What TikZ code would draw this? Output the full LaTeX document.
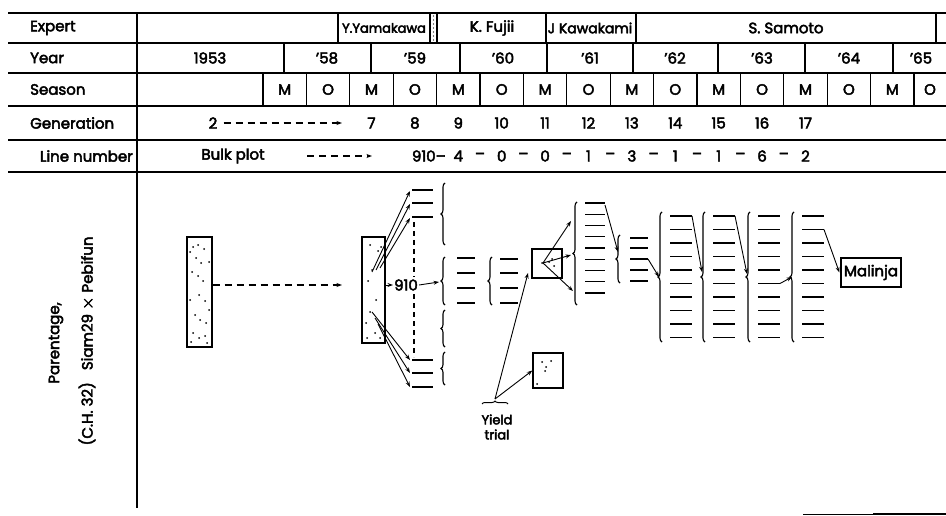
\documentclass[tikz,border=0pt]{standalone}
\usepackage{fontspec}
\setmainfont{Poppins}
\newcommand{\heavytext}{\special{pdf:literal direct 2 Tr 0.45 w}}
\usetikzlibrary{arrows.meta,decorations.pathreplacing}
\begin{document}
\begin{tikzpicture}[x=1pt,y=-1pt,
  every node/.style={font=\fontsize{15}{17}\selectfont\heavytext, inner sep=0pt},
  grid/.style={line width=1.1pt},
  divider/.style={line width=1.6pt},
  bar/.style={line width=1.4pt},
  arr/.style={line width=0.9pt, -{Stealth[length=5.5pt,width=4pt]}},
  dasharr/.style={line width=1.1pt, dash pattern=on 7pt off 5pt, -{Stealth[length=5.5pt,width=4pt]}},
  bracestyle/.style={decorate, decoration={brace, amplitude=4pt}, line width=1.1pt},
  plotbox/.style={draw, line width=1.3pt, inner sep=0pt}
]
\useasboundingbox (0,0) rectangle (946,516);

% ---------- table ----------
\foreach \y in {13,43,73,106,140,172} \draw[grid] (8,\y) -- (946,\y);
\draw[divider] (137,13) -- (137,508);

% left labels
\node[anchor=west] (lexp) at (30,28) {Expert};
\node[anchor=west] (lyear) at (30,58) {Year};
\node[anchor=west] (lseas) at (30,89.5) {Season};
\node[anchor=west] (lgen) at (30,123) {Generation};
\node[anchor=east] (lline) at (133,156) {Line number};

% expert row
\foreach \x in {338,430,437,546,636,936} \draw[grid] (\x,13) -- (\x,43);
\foreach \y in {16,20,...,40} \fill (433.5,\y) circle (0.7);
\node (eyam) at (384,28) {\fontsize{13}{15}\selectfont Y.Yamakawa};
\node (efuj) at (492,28) {K. Fujii};
\node (ekaw) at (590,28) {\fontsize{14}{16}\selectfont J Kawakami};
\node (esam) at (786,28) {S. Samoto};

% year row
\foreach \x in {284,371,460,547,633,718,805,893} \draw[grid] (\x,43) -- (\x,73);
\node (y53) at (210,58) {1953};
\node (y58) at (327,58) {’58};
\node (y59) at (415,58) {’59};
\node (y60) at (503,58) {’60};
\node (y61) at (590,58) {’61};
\node (y62) at (675,58) {’62};
\node (y63) at (762,58) {’63};
\node (y64) at (849,58) {’64};
\node (y65) at (921,58) {’65};

% season row
\foreach \k in {0,...,15} {
  \draw[grid] ({263+43.4*\k},73) -- ++(0,33);
  \pgfmathtruncatemacro{\pp}{mod(\k,2)}
  \pgfmathsetmacro{\xc}{min(263+43.4*(\k+0.5),930)}
  \ifnum\pp=0 \node (s\k) at (\xc,89.5) {M};\else\node (s\k) at (\xc,89.5) {O};\fi
}

% generation row
\node (g2) at (213,123) {2};
\coordinate (g2end) at (342,123);
\draw[dasharr] ([xshift=6pt]g2.east) -- (g2end);
\foreach \k/\g in {2/7,3/8,4/9,5/10,6/11,7/12,8/13,9/14,10/15,11/16,12/17}
  \node (g\g) at ({263+43.4*(\k+0.5)},123) {\g};

% line number row
\node (bulkplot) at (233,156) {Bulk plot};
\coordinate (bpa) at (307,156);
\coordinate (bpb) at (372,156);
\draw[dasharr] (bpa) -- (bpb);
\node[anchor=east] (n910) at (446,156) {910–};
\foreach \k/\v in {4/4,5/0,6/0,7/1,8/3,9/1,10/1,11/6,12/2}
  \node (n\k) at ({263+43.4*(\k+0.5)},156) {\v};
\foreach \k in {4,...,11}
  \node (d\k) at ({263+43.4*(\k+1)},156) {–};

% parentage
\node[rotate=90] (par1) at (56,343) {Parentage,};
\node[rotate=90] (par2) at (87,341) {(C.H. 32)\hspace{12pt}Siam29 {\fontsize{19}{19}\selectfont$\times$} Pebifun};

% ---------- pedigree ----------
\node[plotbox, minimum width=25pt, minimum height=110pt] (bulk) at (199.5,292) {};
\foreach \p in {(193,247),(198,245),(204,249),(196,258),(201,263),(192,272),(198,276),(203,281),(199,295),(205,301),(195,315),(200,320),(206,323),(193,333),(199,338),(205,336),(191,342),(207,343),(190,252),(209,262),(190,300),(209,310)}
  \fill \p circle (1);
\coordinate (bulkend) at (342,285);
\draw[dasharr] (bulk.east |- bulkend) -- (bulkend);

\node[plotbox, minimum width=23pt, minimum height=106pt] (sel) at (373.5,290) {};
\foreach \p in {(370,245),(378,251),(372,270),(368,281),(376,300),(370,312),(366,323),(375,333),(380,338),(381,247),(367,338)}
  \fill \p circle (1);

% top group
\foreach \y in {190,203,217} \draw[bar] (412,\y) -- (433,\y);
\coordinate (ts1) at (372,272); \coordinate (te1) at (410,191);
\coordinate (ts2) at (376,270); \coordinate (te2) at (410,204);
\coordinate (ts3) at (380,268); \coordinate (te3) at (410,218);
\draw[arr] (ts1) -- (te1);
\draw[arr] (ts2) -- (te2);
\draw[arr] (ts3) -- (te3);
% bottom group
\foreach \y in {360,373,387} \draw[bar] (412,\y) -- (433,\y);
\coordinate (bs1) at (372,312); \coordinate (be1) at (410,360);
\coordinate (bs2) at (375,318); \coordinate (be2) at (410,373);
\coordinate (bs3) at (378,324); \coordinate (be3) at (410,387);
\draw[arr] (bs1) -- (be1);
\draw[arr] (bs2) -- (be2);
\draw[arr] (bs3) -- (be3);
% dashed selection line
\draw[line width=1.1pt, dash pattern=on 5pt off 4pt] (414,222) -- (414,357);
\node[fill=white, inner xsep=1pt, inner ysep=2pt] (sel910) at (406,285) {910};
\draw[arr] (sel.east |- sel910) -- (sel910.west);
\coordinate (a2tip) at (439,282);
\draw[arr] (sel910.east) -- (a2tip);

% brace column A
\draw[bracestyle] (445,245) -- (445,183);
\draw[bracestyle] (445,305) -- (445,257);
\draw[bracestyle] (445,347) -- (445,310);
\draw[bracestyle] (445,385) -- (445,352);
\foreach \y in {258,273,288,303} \draw[bar] (457,\y) -- (475,\y);
% brace B
\draw[bracestyle] (492,305) -- (492,257);
\foreach \y in {259,273,288,303} \draw[bar] (500,\y) -- (518,\y);

% yield trial boxes
\node[plotbox, minimum width=30pt, minimum height=29pt] (yt1) at (547,263.5) {};
\foreach \p in {(542,263),(549,262),(554,266),(552,259)} \fill \p circle (1);
\node[plotbox, minimum width=30pt, minimum height=35pt] (yt2) at (548,370.5) {};
\foreach \p in {(542,362),(546,367),(551,361),(545,371),(537,384)} \fill \p circle (1);

\node[align=center, font=\fontsize{13}{15}\selectfont\heavytext] (yield) at (497,427) {Yield\\trial};
\draw[decorate, decoration={brace, amplitude=3pt}, line width=1pt] (482,404) -- (508,404);
\coordinate (yapex) at (495,399);
\draw[arr] (yapex) -- (528,273);
\draw[arr] (yapex) -- (yt2.west);

% arrows out of yt1
\coordinate (yc) at (543,263);
\coordinate (c1) at (571,221);
\coordinate (c2) at (571,255);
\coordinate (c3) at (573,291);
\draw[arr] (yc) -- (c1);
\draw[arr] (yc) -- (c2);
\draw[arr] (yc) -- (c3);

% brace C
\draw[bracestyle] (577,305) -- (577,202);
\foreach \i in {0,...,8} \draw[bar] (585,{203+11.25*\i}) -- (605,{203+11.25*\i});
\coordinate (cb1) at (605,205); \coordinate (dtip) at (618,252);
\draw[arr] (cb1) -- (dtip);

% brace D
\draw[bracestyle] (620,283) -- (620,235);
\foreach \y in {238,248,259,270,281} \draw[bar] (630,\y) -- (648,\y);
\coordinate (db3) at (648,259); \coordinate (e1tip) at (659,277);
\draw[arr] (db3) -- (e1tip);

% braces E1..E4
\foreach \bx in {662,705,750,794} {
  \draw[bracestyle] (\bx,342) -- (\bx,212);
  \foreach \i in {0,...,9} \draw[bar] ({\bx+8},{216+13.5*\i}) -- ({\bx+30},{216+13.5*\i});
}
\coordinate (e1b1) at (692,216); \coordinate (e2tip) at (702,272);
\draw[arr] (e1b1) -- (e2tip);
\coordinate (e2b1) at (735,216); \coordinate (e3tip) at (747,274);
\draw[arr] (e2b1) -- (e3tip);
\coordinate (e3b6) at (780,283.5); \coordinate (e4tip) at (792,277);
\draw[arr] (e3b6) -- (e4tip);

\node[plotbox, inner xsep=3pt, minimum height=29pt] (mal) at (871,272.5) {Malinja};
\coordinate (e4b2) at (824,229.5);
\draw[arr] (e4b2) -- ([xshift=-1pt]mal.west);

% bottom rule
\draw[line width=0.8pt] (803,514) -- (873,514);
\draw[line width=2pt] (873,514) -- (946,514);
\end{tikzpicture}
\end{document}
